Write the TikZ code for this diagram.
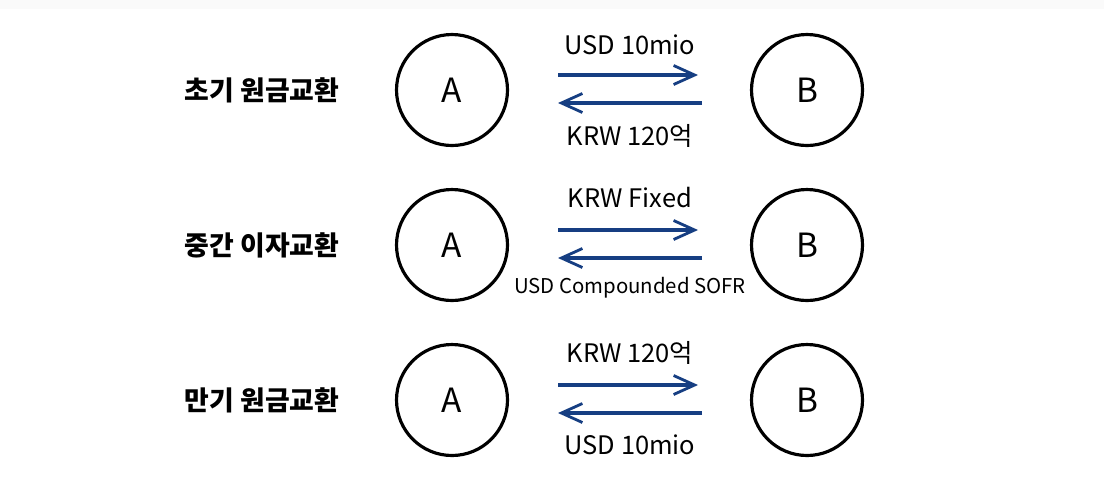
\documentclass[tikz,border=0pt]{standalone}
\usepackage{fontspec}
\setmainfont{Noto Sans CJK KR}
\usetikzlibrary{arrows.meta, positioning}
\definecolor{SwapBlue}{RGB}{22, 62, 130}
\tikzset{
    party/.style={
        circle,
        draw=black,
        line width=1.8pt,
        inner sep=0pt,
        minimum size=2.22cm,
        font=\fontsize{19}{22}\selectfont
    },
    legtitle/.style={
        font=\fontsize{15.3}{18}\selectfont\bfseries
    },
    flowlabel/.style={
        font=\fontsize{14.5}{17}\selectfont
    },
    smalllabel/.style={
        font=\fontsize{11.6}{14}\selectfont
    },
    flow/.style={
        -{Straight Barb[length=4.2mm, width=3.8mm, line width=1.6pt]},
        line width=2.5pt,
        color=SwapBlue
    }
}
\begin{document}
\begin{tikzpicture}[x=0.02cm, y=-0.02cm]
    \useasboundingbox[fill=white] (0,0) rectangle (1104,488);
    \fill[black!2] (0,0) rectangle (1104,9);

    % initial exchange
    \node[party] (a1) at (452,90) {A};
    \node[party] (b1) at (807,90) {B};
    \node[legtitle] (t1) at (262,90) {초기 원금교환};
    \coordinate (p1) at (558,75);
    \coordinate (q1) at (698,75);
    \coordinate (r1) at (702,103);
    \coordinate (s1) at (558,103);
    \draw[flow] (p1) -- (q1);
    \draw[flow] (r1) -- (s1);
    \node[flowlabel] (u1) at (630,45) {USD 10mio};
    \node[flowlabel] (k1) at (630,136) {KRW 120억};

    % interest exchange
    \node[party] (a2) at (452,245) {A};
    \node[party] (b2) at (807,245) {B};
    \node[legtitle] (t2) at (262,245) {중간 이자교환};
    \coordinate (p2) at (558,230);
    \coordinate (q2) at (698,230);
    \coordinate (r2) at (702,258);
    \coordinate (s2) at (558,258);
    \draw[flow] (p2) -- (q2);
    \draw[flow] (r2) -- (s2);
    \node[flowlabel] (u2) at (630,198) {KRW Fixed};
    \node[smalllabel] (k2) at (630,288) {USD Compounded SOFR};

    % final exchange
    \node[party] (a3) at (452,400) {A};
    \node[party] (b3) at (807,400) {B};
    \node[legtitle] (t3) at (262,400) {만기 원금교환};
    \coordinate (p3) at (558,385);
    \coordinate (q3) at (698,385);
    \coordinate (r3) at (702,413);
    \coordinate (s3) at (558,413);
    \draw[flow] (p3) -- (q3);
    \draw[flow] (r3) -- (s3);
    \node[flowlabel] (u3) at (630,353) {KRW 120억};
    \node[flowlabel] (k3) at (630,445) {USD 10mio};
\end{tikzpicture}
\end{document}
